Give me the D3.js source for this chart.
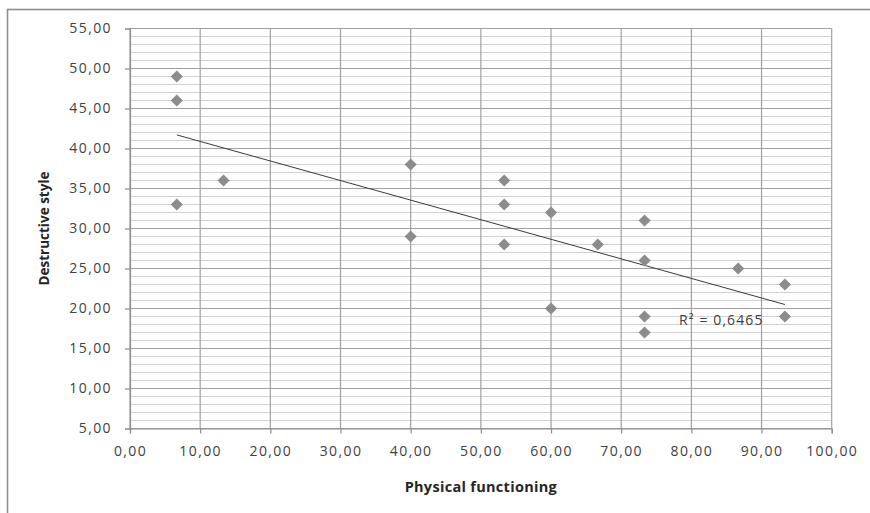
<!DOCTYPE html>
<html>
<head>
<meta charset="utf-8">
<script src="https://cdn.jsdelivr.net/npm/d3@7"></script>
<style>
  html, body { margin: 0; padding: 0; background: #fff; }
  svg { display: block; }
</style>
</head>
<body>
<svg id="chart" width="870" height="513"></svg>
<script>
// ---- data ----
const physicalFunctioning = [6.67, 6.67, 6.67, 13.33, 40, 40, 53.33, 53.33, 53.33, 60, 60, 66.67, 73.33, 73.33, 73.33, 73.33, 86.67, 93.33, 93.33];
const destructiveStyle    = [49, 46, 33, 36, 38, 29, 36, 33, 28, 32, 20, 28, 31, 26, 19, 17, 25, 23, 19];
const trendX = [6.67, 93.33];
const trendY = [41.7, 20.5];
const xTickValues = [0, 10, 20, 30, 40, 50, 60, 70, 80, 90, 100];
const yTickValues = [5, 10, 15, 20, 25, 30, 35, 40, 45, 50, 55];
const yMinorValues = d3.range(5, 56, 1);
const xTitle = "Physical functioning";
const yTitle = "Destructive style";
const rSquaredLabel = "R\u00B2 = 0,6465";

// ---- layout ----
const plot = { left: 130, right: 831.7, top: 28.5, bottom: 428.5 };

const svg = d3.select("#chart");
const locale = d3.formatLocale({ decimal: ",", thousands: ".", grouping: [3], currency: ["", ""] });
const fmt = locale.format(".2f");

const x = d3.scaleLinear().domain([0, 100]).range([plot.left, plot.right]);
const y = d3.scaleLinear().domain([5, 55]).range([plot.bottom, plot.top]);

// outer chart border
svg.append("rect")
  .attr("x", 7.5).attr("y", 9.5)
  .attr("width", 900).attr("height", 600)
  .attr("fill", "none").attr("stroke", "#8e8e8e").attr("stroke-width", 1.6);

const labelFont = "'Open Sans', sans-serif";
const textColor = "#404040";

// minor horizontal gridlines
svg.append("g")
  .selectAll("line").data(yMinorValues.filter(v => v % 5 !== 0)).join("line")
  .attr("x1", plot.left).attr("x2", plot.right)
  .attr("y1", d => y(d)).attr("y2", d => y(d))
  .attr("stroke", "#d2d2d2").attr("stroke-width", 1);

// major horizontal gridlines
svg.append("g")
  .selectAll("line").data(yTickValues).join("line")
  .attr("x1", plot.left).attr("x2", plot.right)
  .attr("y1", d => y(d)).attr("y2", d => y(d))
  .attr("stroke", "#a0a0a0").attr("stroke-width", 1);

// vertical gridlines
svg.append("g")
  .selectAll("line").data(xTickValues).join("line")
  .attr("x1", d => x(d)).attr("x2", d => x(d))
  .attr("y1", plot.top).attr("y2", plot.bottom)
  .attr("stroke", "#a0a0a0").attr("stroke-width", 1.2);

// axes
const xAxis = d3.axisBottom(x).tickValues(xTickValues).tickFormat(fmt).tickSize(5).tickPadding(13);
const yAxis = d3.axisLeft(y).tickValues(yTickValues).tickFormat(fmt).tickSize(5).tickPadding(13);

const gx = svg.append("g").attr("transform", `translate(0,${plot.bottom})`).call(xAxis);
const gy = svg.append("g").attr("transform", `translate(${plot.left},0)`).call(yAxis);

[gx, gy].forEach(g => {
  g.select(".domain").attr("stroke", "#8e8e8e").attr("stroke-width", 1.2);
  g.selectAll(".tick line").attr("stroke", "#8e8e8e").attr("stroke-width", 1.2);
  g.selectAll(".tick text")
    .attr("fill", textColor)
    .style("font-family", labelFont)
    .style("font-size", "14px")
    .style("letter-spacing", "1.4px");
});

// trend line
svg.append("path")
  .datum(trendX.map((v, i) => [v, trendY[i]]))
  .attr("d", d3.line().x(d => x(d[0])).y(d => y(d[1])))
  .attr("fill", "none").attr("stroke", "#3a3a3a").attr("stroke-width", 1);

// points (diamonds)
const diamond = d3.symbol().type(d3.symbolDiamond2).size(95);
svg.append("g")
  .selectAll("path").data(physicalFunctioning.map((v, i) => [v, destructiveStyle[i]])).join("path")
  .attr("transform", d => `translate(${x(d[0])},${y(d[1])})`)
  .attr("d", diamond)
  .attr("fill", "#8c8c8c");

// R² label
svg.append("text")
  .attr("x", 679).attr("y", 325)
  .attr("fill", textColor)
  .style("font-family", labelFont)
  .style("font-size", "14px")
  .style("letter-spacing", "1.1px")
  .text(rSquaredLabel);

// axis titles
svg.append("text")
  .attr("x", (plot.left + plot.right) / 2).attr("y", 492)
  .attr("text-anchor", "middle")
  .attr("fill", "#262626")
  .style("font-family", "'Open Sans', sans-serif")
  .style("font-weight", "700")
  .style("font-size", "14.5px")
  .style("letter-spacing", "0.3px")
  .text(xTitle);

svg.append("text")
  .attr("transform", `translate(49,${(plot.top + plot.bottom) / 2}) rotate(-90)`)
  .attr("text-anchor", "middle")
  .attr("fill", "#262626")
  .style("font-family", "'Open Sans', sans-serif")
  .style("font-weight", "700")
  .style("font-size", "13.5px")
  .text(yTitle);
</script>
</body>
</html>
